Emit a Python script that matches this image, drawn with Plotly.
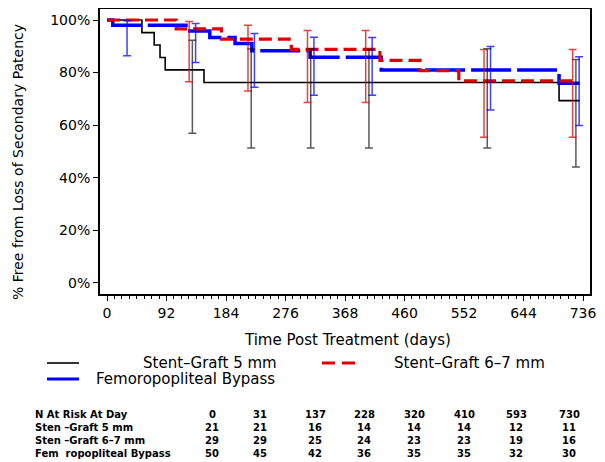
import plotly.graph_objects as go

# ---------------- data ----------------
# Kaplan-Meier step curves (days, % free)
sg5_days = [0, 54, 73, 82, 90, 150, 699, 731]
sg5_pct = [100, 95.2, 90.5, 85.7, 81.0, 76.2, 69.3, 69.3]

sg67_days = [0, 107, 177, 285, 422, 484, 544, 727]
sg67_pct = [100, 96.6, 92.7, 88.8, 84.6, 80.7, 76.8, 76.8]

fb_days = [0, 9, 128, 159, 198, 224, 314, 424, 699, 731]
fb_pct = [100, 98.0, 95.8, 93.3, 91.1, 88.3, 85.8, 81.0, 75.9, 75.9]

# confidence intervals at the at-risk days
sg5_ci_days = [137, 228, 320, 410, 593, 730]
sg5_ci_hi = [92.3, 89.0, 89.0, 88.8, 89.1, 85.0]
sg5_ci_lo = [56.9, 51.3, 51.3, 51.3, 51.3, 44.0]

sg67_ci_days = [137, 228, 320, 410, 593, 730]
sg67_ci_hi = [99.4, 98.0, 96.0, 96.0, 88.8, 88.8]
sg67_ci_lo = [76.5, 73.0, 68.6, 68.6, 55.4, 55.4]

fb_ci_days = [31, 137, 228, 320, 410, 593, 730]
fb_ci_hi = [99.7, 98.7, 94.9, 93.4, 93.3, 89.9, 86.0]
fb_ci_lo = [86.4, 83.8, 74.4, 71.4, 71.4, 65.7, 59.8]

x_ticks = [0, 92, 184, 276, 368, 460, 552, 644, 736]
y_ticks = [0, 20, 40, 60, 80, 100]

risk_days = [0, 31, 137, 228, 320, 410, 593, 730]
risk_labels = ["Sten \u2013Graft 5 mm", "Sten \u2013Graft 6\u20137 mm", "Fem  ropopliteal Bypass"]
risk_sg5 = [21, 21, 16, 14, 14, 14, 12, 11]
risk_sg67 = [29, 29, 25, 24, 23, 23, 19, 16]
risk_fb = [50, 45, 42, 36, 35, 35, 32, 30]

series_names = ["Stent\u2013Graft 5 mm", "Stent\u2013Graft 6\u20137 mm", "Femoropopliteal Bypass"]

# ---------------- figure ----------------
OFF = 8  # page body margin offset
W, H = 605 - OFF, 462 - OFF
# plot area in page pixels: x 100..590, y 9..294
L, T = 100 - OFF, 9 - OFF
R = W - (590 - OFF)
B = H - (294 - OFF)
PW, PH = W - L - R, H - T - B
FONT = "DejaVu Sans"

def px_x(p):
    return (p - OFF - L) / PW

def px_y(p):
    return (H - B - (p - OFF)) / PH

BLACK = "#000000"
RED = "#e00000"
BLUE = "#0000ff"

fig = go.Figure()

def ci_trace(days, hi, lo, offset, color):
    mid = [(a + b) / 2 for a, b in zip(hi, lo)]
    half = [(a - b) / 2 for a, b in zip(hi, lo)]
    return go.Scatter(
        x=[d + offset for d in days], y=mid, mode="markers",
        marker=dict(size=1, opacity=0),
        error_y=dict(type="data", symmetric=True, array=half,
                     color=color, thickness=1.5, width=4),
        showlegend=False, hoverinfo="skip")

fig.add_trace(go.Scatter(x=sg5_days, y=sg5_pct, mode="lines", line_shape="hv",
                         line=dict(color=BLACK, width=1.6), name=series_names[0], showlegend=False))
fig.add_trace(go.Scatter(x=fb_days, y=fb_pct, mode="lines", line_shape="hv",
                         line=dict(color=BLUE, width=3.5, dash="40px,6px"), name=series_names[2], showlegend=False))
fig.add_trace(go.Scatter(x=sg67_days, y=sg67_pct, mode="lines", line_shape="hv",
                         line=dict(color=RED, width=3.2, dash="13px,6px"), name=series_names[1], showlegend=False))

fig.add_trace(ci_trace(sg5_ci_days, sg5_ci_hi, sg5_ci_lo, -5, "rgba(0,0,0,0.65)"))
fig.add_trace(ci_trace(sg67_ci_days, sg67_ci_hi, sg67_ci_lo, -10, "rgba(225,0,0,0.75)"))
fig.add_trace(ci_trace(fb_ci_days, fb_ci_hi, fb_ci_lo, 0, "rgba(0,0,255,0.75)"))

x_per_px = 736 / (583 - 107)
x0 = -(107 - 100) * x_per_px
x1 = 736 + (590 - 583) * x_per_px
y_per_px = 100 / (282.7 - 20)
y1 = 100 + (20 - 9) * y_per_px
y0 = -(294 - 282.7) * y_per_px

fig.update_layout(
    width=W, height=H,
    margin=dict(l=L, r=R, t=T, b=B, autoexpand=False),
    paper_bgcolor="white", plot_bgcolor="white",
    font=dict(family=FONT, color="black", size=14),
    xaxis=dict(range=[x0, x1], tickvals=x_ticks, ticktext=[str(v) for v in x_ticks],
               automargin=False,
               showgrid=False, zeroline=False, showline=True, linewidth=2, linecolor="black",
               mirror=True, ticks="outside", ticklen=5, tickwidth=1.2, tickcolor="black",
               tickfont=dict(size=14),
               minor=dict(dtick=11.5, tick0=0, ticks="outside", ticklen=3, tickwidth=1, tickcolor="black")),
    yaxis=dict(range=[y0, y1], tickvals=y_ticks, ticktext=[f"{v}%" for v in y_ticks],
               automargin=False,
               showgrid=False, zeroline=False, showline=True, linewidth=2, linecolor="black",
               mirror=True, ticks="outside", ticklen=5, tickwidth=1.2, tickcolor="black",
               tickfont=dict(size=14)),
)

ann = []
# axis titles
ann.append(dict(text="Time Post Treatment (days)", xref="paper", yref="paper",
                x=px_x(347), y=px_y(340), xanchor="center", yanchor="middle",
                showarrow=False, font=dict(size=15)))
ann.append(dict(text="% Free from Loss of Secondary Patency", xref="paper", yref="paper",
                x=px_x(18), y=px_y(162), xanchor="center", yanchor="middle", textangle=-90,
                showarrow=False, font=dict(size=14)))

# legend
shapes = []
shapes.append(dict(type="line", xref="paper", yref="paper", x0=px_x(47), x1=px_x(79),
                   y0=px_y(363), y1=px_y(363), line=dict(color=BLACK, width=1.6)))
shapes.append(dict(type="line", xref="paper", yref="paper", x0=px_x(47), x1=px_x(79),
                   y0=px_y(379), y1=px_y(379), line=dict(color=BLUE, width=3)))
shapes.append(dict(type="line", xref="paper", yref="paper", x0=px_x(322), x1=px_x(335),
                   y0=px_y(363), y1=px_y(363), line=dict(color=RED, width=3)))
shapes.append(dict(type="line", xref="paper", yref="paper", x0=px_x(342), x1=px_x(355),
                   y0=px_y(363), y1=px_y(363), line=dict(color=RED, width=3)))
ann.append(dict(text=series_names[0], xref="paper", yref="paper", x=px_x(141), y=px_y(363),
                xanchor="left", yanchor="middle", showarrow=False, font=dict(size=15)))
ann.append(dict(text=series_names[1], xref="paper", yref="paper", x=px_x(392), y=px_y(363),
                xanchor="left", yanchor="middle", showarrow=False, font=dict(size=15)))
ann.append(dict(text=series_names[2], xref="paper", yref="paper", x=px_x(94), y=px_y(379),
                xanchor="left", yanchor="middle", showarrow=False, font=dict(size=15)))

# at-risk table
row_y = [414, 427, 440, 453]
col_x = [212, 260, 315, 364, 414, 464, 516, 569]
tfont = dict(size=10, family="DejaVu Sans", weight="bold")
ann.append(dict(text="N At Risk At Day", xref="paper", yref="paper", x=px_x(33), y=px_y(row_y[0]),
                xanchor="left", yanchor="middle", showarrow=False, font=tfont))
for i, lab in enumerate(risk_labels):
    ann.append(dict(text=lab, xref="paper", yref="paper", x=px_x(33), y=px_y(row_y[i + 1]),
                    xanchor="left", yanchor="middle", showarrow=False, font=tfont))
for r, vals in enumerate([risk_days, risk_sg5, risk_sg67, risk_fb]):
    for c, v in enumerate(vals):
        ann.append(dict(text=str(v), xref="paper", yref="paper", x=px_x(col_x[c]), y=px_y(row_y[r]),
                        xanchor="center", yanchor="middle", showarrow=False, font=tfont))

fig.update_layout(annotations=ann, shapes=shapes)
fig.write_html("out.html")
